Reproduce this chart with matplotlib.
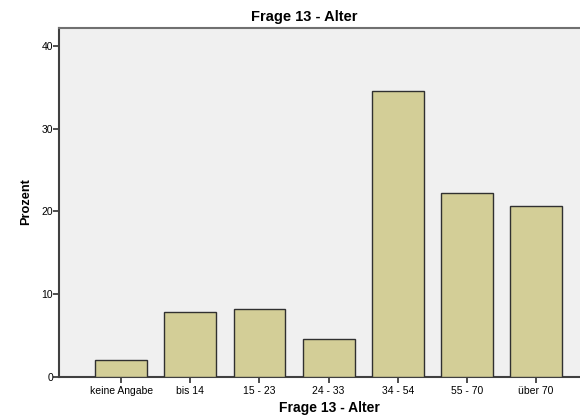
import numpy as np
import matplotlib
matplotlib.use('Agg')
import matplotlib.pyplot as plt

plt.rcParams['font.family'] = ['Liberation Sans', 'DejaVu Sans']

categories = ['keine Angabe', 'bis 14', '15 - 23', '24 - 33', '34 - 54', '55 - 70', 'über 70']
percent = [2.1, 7.9, 8.2, 4.6, 34.5, 22.2, 20.7]
y_ticks = [0, 10, 20, 30, 40]

title = 'Frage 13 - Alter'
x_label = 'Frage 13 - Alter'
y_label = 'Prozent'

W, H = 580, 416
fig = plt.figure(figsize=(W / 100, H / 100), dpi=100)
fig.patch.set_facecolor('white')

# axes runs past the right edge (original chart was cropped)
left, right, top, bottom = 59.3, 598.0, 28.3, 377.0
ax = fig.add_axes([left / W, (H - bottom) / H, (right - left) / W, (bottom - top) / H])
ax.set_facecolor('#f0f0f0')

x = np.arange(len(categories))
ax.bar(x, percent, width=0.75, color='#d3ce97', edgecolor='#303030', linewidth=1.0, zorder=3)

ax.set_xlim(-0.895, len(categories) - 1 + 0.895)
ax.set_ylim(0, 42.1)
ax.set_xticks(x)
ax.set_xticklabels(categories, fontsize=7.5)
ax.set_yticks(y_ticks)
ax.set_yticklabels([str(t) for t in y_ticks], fontsize=7.5)

ax.tick_params(axis='x', direction='out', length=4, width=1.2, color='#303030', pad=2.5)
ax.tick_params(axis='y', direction='out', length=4, width=1.2, color='#303030', pad=0.5)

for side in ['left', 'bottom']:
    ax.spines[side].set_color('#404040')
    ax.spines[side].set_linewidth(1.5)
ax.spines['top'].set_color('#707070')
ax.spines['top'].set_linewidth(1.5)
ax.spines['right'].set_visible(False)

fig.text(304 / W, 1 - 17.5 / H, title, ha='center', va='center',
         fontsize=10.5, fontweight='bold')
fig.text(329 / W, 1 - 408 / H, x_label, ha='center', va='center',
         fontsize=10, fontweight='bold')
fig.text(26 / W, 1 - 202 / H, y_label, ha='center', va='center',
         rotation=90, fontsize=9.2, fontweight='bold')

fig.savefig('out.png', dpi=100)
